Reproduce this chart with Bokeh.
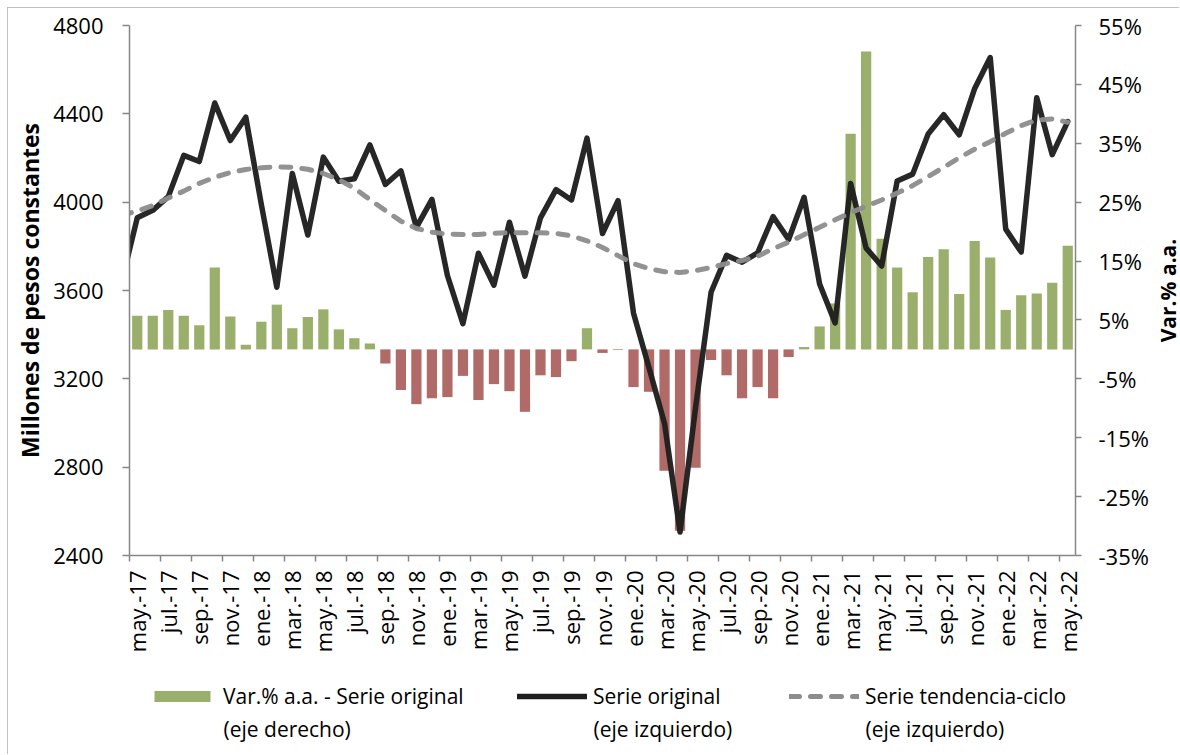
import math
from bokeh.plotting import figure
from bokeh.layouts import column, row
from bokeh.models import (Range1d, LinearAxis, FixedTicker, Legend, LegendItem,
                          Label, ColumnDataSource)
from bokeh.embed import file_html
from bokeh.resources import INLINE

# ---------------- data ----------------
MESES = ["ene", "feb", "mar", "abr", "may", "jun", "jul", "ago", "sep", "oct", "nov", "dic"]
# categories: may.-17 ... may.-22 (61 months)
meses = [f"{MESES[(4 + i) % 12]}.-{17 + (4 + i) // 12}" for i in range(61)]

# Var.% a.a. - Serie original (right axis, %), may-17 .. may-22
var_aa = [5.7, 5.7, 6.7, 5.7, 4.1, 13.9, 5.6, 0.8, 4.7, 7.6,
          3.6, 5.5, 6.8, 3.4, 1.9, 1.0, -2.4, -6.9, -9.3, -8.3,
          -8.1, -4.5, -8.6, -5.9, -7.1, -10.6, -4.4, -4.7, -2.0, 3.6,
          -0.6, -0.1, -6.4, -7.2, -20.6, -30.8, -20.1, -1.8, -4.4, -8.3,
          -6.4, -8.3, -1.3, 0.4, 3.9, 7.8, 36.6, 50.6, 18.8, 13.9,
          9.7, 15.7, 17.0, 9.4, 18.4, 15.6, 6.7, 9.2, 9.5, 11.3,
          17.6]

# Serie original (left axis), abr-17 .. may-22 (first value precedes the axis)
serie_original = [3640,
                  3929, 3963, 4025, 4212, 4184, 4449, 4279, 4385, 3990, 3615,
                  4130, 3851, 4204, 4095, 4106, 4259, 4080, 4142, 3886, 4013,
                  3668, 3450, 3769, 3624, 3909, 3665, 3929, 4057, 4010, 4290,
                  3858, 4007, 3497, 3250, 2998, 2506, 3070, 3592, 3759, 3728,
                  3770, 3935, 3831, 4022, 3629, 3453, 4085, 3792, 3711, 4096,
                  4127, 4309, 4396, 4305, 4515, 4655, 3878, 3774, 4473, 4215,
                  4365]

# Serie tendencia-ciclo (left axis), abr-17 .. may-22
tendencia = [3940,
             3960, 3984, 4019, 4050, 4085, 4113, 4134, 4148, 4156, 4160,
             4158, 4149, 4130, 4102, 4063, 4012, 3962, 3914, 3881, 3864,
             3856, 3854, 3854, 3859, 3862, 3862, 3862, 3858, 3848, 3825,
             3795, 3758, 3721, 3699, 3685, 3682, 3690, 3704, 3722, 3736,
             3755, 3789, 3819, 3853, 3886, 3920, 3952, 3982, 4010, 4041,
             4075, 4116, 4158, 4201, 4240, 4274, 4312, 4347, 4372, 4377,
             4362]

left_ticks = [2400, 2800, 3200, 3600, 4000, 4400, 4800]
right_ticks = [-35, -25, -15, -5, 5, 15, 25, 35, 45, 55]

legend_l1 = ["Var.% a.a. - Serie original", "Serie original", "Serie tendencia-ciclo"]
legend_l2 = ["(eje derecho)", "(eje izquierdo)", "(eje izquierdo)"]

# ---------------- styles ----------------
FONT = "Open Sans"
AX = "#868686"
GREEN = "#9BAF6C"
RED = "#B06A67"
BLACK = "#1E1E1E"
GREY = "#8C8C8C"
DASH = "10 11"
WP, WR, HM, HL = 1146, 25, 660, 86
BL, BT, BB = 121, 17, HM - 547
BR = WP - BL - 951 + 5

# ---------------- main figure ----------------
p = figure(width=WP, height=HM, output_backend="svg", toolbar_location=None,
           x_range=Range1d(-0.5, 60.5), y_range=Range1d(2400, 4800),
           min_border_left=BL, min_border_right=BR, min_border_top=BT,
           min_border_bottom=BB)
p.outline_line_color = None
p.xgrid.grid_line_color = None
p.ygrid.grid_line_color = None
p.background_fill_color = "white"
p.border_fill_color = "white"
p.extra_y_ranges = {"pct": Range1d(-35, 55)}

x_bars = list(range(len(meses)))
x_line = list(range(-1, len(meses)))

pos = ColumnDataSource(dict(x=[x for x, v in zip(x_bars, var_aa) if v >= 0],
                            top=[v for v in var_aa if v >= 0]))
neg = ColumnDataSource(dict(x=[x for x, v in zip(x_bars, var_aa) if v < 0],
                            top=[v for v in var_aa if v < 0]))

p.vbar(x="x", top="top", bottom=0, width=0.66, source=pos,
       y_range_name="pct", fill_color=GREEN, line_color=None)
p.vbar(x="x", top="top", bottom=0, width=0.66, source=neg,
       y_range_name="pct", fill_color=RED, line_color=None)
p.line(x_line, serie_original, line_color=BLACK, line_width=5.5,
       line_alpha=0.96, line_join="round", line_cap="round")
p.line(x_line, tendencia, line_color=GREY, line_width=5,
       line_alpha=0.95, line_dash=DASH, line_cap="round")

xax = p.xaxis[0]
xax.ticker = FixedTicker(ticks=list(range(0, 61, 2)),
                         minor_ticks=[i - 0.5 for i in range(0, 62, 2)])
xax.major_label_overrides = {i: meses[i] for i in range(0, 61, 2)}
xax.major_tick_line_color = None
xax.minor_tick_line_color = AX
xax.minor_tick_line_width = 1.5
xax.minor_tick_out = 6
xax.minor_tick_in = 0
xax.axis_line_color = AX
xax.axis_line_width = 1.5
xax.major_label_orientation = math.pi / 2
xax.major_label_standoff = 9
xax.major_label_text_font = FONT
xax.major_label_text_font_size = "22px"
xax.major_label_text_color = "black"

yax = p.yaxis[0]
yax.ticker = FixedTicker(ticks=left_ticks)
yax.minor_tick_line_color = None
yax.major_tick_out = 7
yax.major_tick_in = 0
yax.major_tick_line_color = AX
yax.major_tick_line_width = 1.5
yax.axis_line_color = AX
yax.axis_line_width = 1.5
yax.major_label_standoff = 19
yax.major_label_text_font = FONT
yax.major_label_text_font_size = "22px"
yax.major_label_text_color = "black"
yax.axis_label = "Millones de pesos constantes"
yax.axis_label_text_font = FONT
yax.axis_label_text_font_style = "bold"
yax.axis_label_text_font_size = "23px"
yax.axis_label_text_color = "black"
yax.axis_label_standoff = 4

rax = LinearAxis(y_range_name="pct", ticker=FixedTicker(ticks=right_ticks))
rax.major_label_overrides = {t: f"{t}%" for t in right_ticks}
rax.minor_tick_line_color = None
rax.major_tick_out = 6
rax.major_tick_in = 0
rax.major_tick_line_color = AX
rax.major_tick_line_width = 1.5
rax.axis_line_color = AX
rax.axis_line_width = 1.5
rax.major_label_standoff = 17
rax.major_label_text_font = FONT
rax.major_label_text_font_size = "22px"
rax.major_label_text_color = "black"
p.add_layout(rax, "right")

# ---------------- right-axis title strip ----------------
r = figure(width=WR, height=HM, output_backend="svg", toolbar_location=None,
           x_range=Range1d(0, 1), y_range=Range1d(0, 1),
           x_axis_type=None, y_axis_type=None, min_border_left=0,
           min_border_right=0, min_border_top=BT, min_border_bottom=BB)
r.outline_line_color = None
r.xgrid.grid_line_color = None
r.ygrid.grid_line_color = None
r.background_fill_color = "white"
r.border_fill_color = "white"
r.add_layout(Label(x=13, y=(HM - BT - BB) / 2, x_units="screen", y_units="screen",
                   text="Var.% a.a.", angle=math.pi / 2, text_align="center",
                   text_baseline="middle", text_font=FONT, text_font_style="bold",
                   text_font_size="21px", text_color="black"))

# ---------------- legend strip (frame aligned with main) ----------------
q = figure(width=WP, height=HL, output_backend="svg", toolbar_location=None,
           x_range=Range1d(0, 1), y_range=Range1d(0, 1),
           x_axis_type=None, y_axis_type=None, min_border_left=BL,
           min_border_right=BR, min_border_top=0, min_border_bottom=0)
q.outline_line_color = None
q.xgrid.grid_line_color = None
q.ygrid.grid_line_color = None
q.background_fill_color = "white"
q.border_fill_color = "white"

# legend proxies, placed outside the strip's visible range
g_bar = q.vbar(x=[5], top=[6], bottom=[5], width=0.5, fill_color=GREEN, line_color=None)
g_orig = q.line(x=[5, 6], y=[5, 5], line_color=BLACK, line_width=5.5, line_cap="round")
g_trend = q.line(x=[5, 6], y=[5, 5], line_color=GREY, line_width=5,
                 line_dash=DASH, line_cap="round")

leg_x = [18, 388, 660]
for lx, txt, rend in zip(leg_x, legend_l1, [g_bar, g_orig, g_trend]):
    q.add_layout(Legend(items=[LegendItem(label=txt, renderers=[rend])],
                        location=(lx, 44), orientation="horizontal",
                        padding=0, margin=0, spacing=0,
                        glyph_width=70, glyph_height=14, label_standoff=6,
                        label_height=26,
                        label_text_font=FONT, label_text_font_size="21px",
                        label_text_color="black", border_line_color=None,
                        background_fill_alpha=0))
for lx, txt in zip(leg_x, legend_l2):
    q.add_layout(Label(x=lx + 76, y=26, x_units="screen", y_units="screen",
                       text=txt, text_baseline="middle", text_font=FONT,
                       text_font_size="21px", text_color="black"))

layout = column(row(p, r, spacing=0), q, spacing=0)
layout.styles = {"margin-left": "7px", "margin-top": "7px",
                 "border-left": "1px solid #c0c0c0", "border-top": "1px solid #c0c0c0"}

open("out.html", "w").write(file_html(layout, INLINE))
